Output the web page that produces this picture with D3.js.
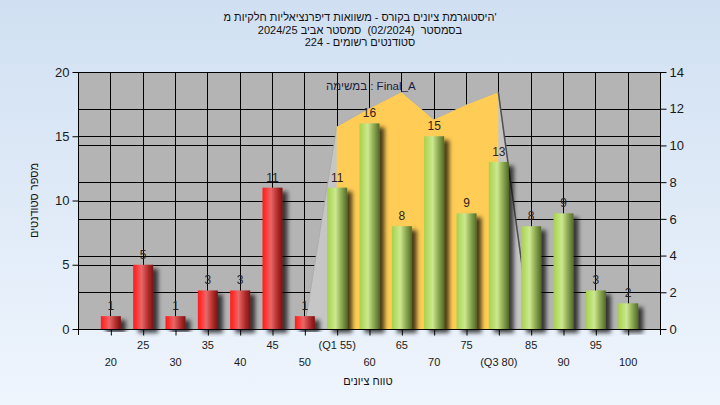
<!DOCTYPE html>
<html>
<head>
<meta charset="utf-8">
<script src="https://cdn.jsdelivr.net/npm/d3@7"></script>
<style>
  html, body { margin: 0; padding: 0; }
  body { width: 720px; height: 405px; overflow: hidden; }
  text { font-family: "Liberation Sans", Arial, "DejaVu Sans", sans-serif; }
</style>
</head>
<body>
<svg id="chart" width="720" height="405"></svg>
<script>
// ---- data ----
const categories = [20, 25, 30, 35, 40, 45, 50, 55, 60, 65, 70, 75, 80, 85, 90, 95, 100];
const counts     = [1, 5, 1, 3, 3, 11, 1, 11, 16, 8, 15, 9, 13, 8, 9, 3, 2];
const tickLabels = ["20","25","30","35","40","45","50","(Q1 55)","60","65","70","75","(Q3 80)","85","90","95","100"];
const failLimit = 55; // bars below this are red
// distribution area (right axis units)
const areaCats   = [50, 55, 60, 65, 70, 75, 80, 85];
const areaValues = [0, 11, 12, 12.9, 11.4, 12.2, 12.9, 0];
const q1 = 55, q3 = 80;
const leftTicks  = [0, 5, 10, 15, 20];
const rightTicks = [0, 2, 4, 6, 8, 10, 12, 14];
const titleLines = [
  "היסטוגרמת ציונים בקורס - משוואות דיפרנציאליות חלקיות מ'",
  "בסמסטר  (02/2024)  סמסטר אביב 2024/25",
  "סטודנטים רשומים - 224"
];
const yTitle = "מספר סטודנטים";
const xTitle = "טווח ציונים";
const seriesLabel = "במשימה : Final_A";

// ---- layout ----
const L = 78, R = 660, T = 72, B = 329;
const svg = d3.select("#chart");
const defs = svg.append("defs");

const bg = defs.append("linearGradient").attr("id", "bg").attr("x1", 0).attr("x2", 0).attr("y1", 0).attr("y2", 1);
bg.append("stop").attr("offset", 0).attr("stop-color", "#d0e0f2");
bg.append("stop").attr("offset", 1).attr("stop-color", "#eff5fd");

function grad(id, stops) {
  const g = defs.append("linearGradient").attr("id", id).attr("x1", 0).attr("x2", 1).attr("y1", 0).attr("y2", 0);
  stops.forEach(s => g.append("stop").attr("offset", s[0]).attr("stop-color", s[1]));
}
grad("red", [[0, "#ff1e1e"], [0.15, "#ff3030"], [0.42, "#e86868"], [0.72, "#b83030"], [1, "#7a1212"]]);
grad("green", [[0, "#a6d04e"], [0.15, "#b4da62"], [0.42, "#cce890"], [0.72, "#8aa850"], [1, "#526a2a"]]);

const sh = defs.append("filter").attr("id", "shadow").attr("x", "-30%").attr("y", "-10%").attr("width", "180%").attr("height", "130%");
sh.append("feDropShadow").attr("dx", 5).attr("dy", 4).attr("stdDeviation", 2)
  .attr("flood-color", "#000").attr("flood-opacity", 0.7);

svg.append("rect").attr("width", 720).attr("height", 405).attr("fill", "url(#bg)");

const x = d3.scalePoint().domain(categories).range([L, R]).padding(1);
const yL = d3.scaleLinear().domain([0, 20]).range([B, T]);
const yR = d3.scaleLinear().domain([0, 14]).range([B, T]);

// plot background
svg.append("rect").attr("x", L).attr("y", T).attr("width", R - L).attr("height", B - T).attr("fill", "#b4b4b4");

// gridlines
const grid = svg.append("g").attr("stroke", "#000").attr("stroke-width", 1);
leftTicks.forEach(v => grid.append("line").attr("x1", L).attr("x2", R).attr("y1", Math.round(yL(v)) + 0.5).attr("y2", Math.round(yL(v)) + 0.5));
rightTicks.forEach(v => grid.append("line").attr("x1", L).attr("x2", R).attr("y1", Math.round(yR(v)) + 0.5).attr("y2", Math.round(yR(v)) + 0.5));
categories.forEach(c => grid.append("line").attr("x1", Math.round(x(c)) + 0.5).attr("x2", Math.round(x(c)) + 0.5).attr("y1", T).attr("y2", B));

// distribution area
const areaPts = areaCats.map((c, i) => [x(c), yR(areaValues[i])]);
svg.append("path").attr("d", d3.line()(areaPts) + "Z").attr("fill", "#c6c6c6").attr("stroke", "#a8a8a8").attr("stroke-width", 0.8);
const inner = areaCats.map((c, i) => ({c, v: areaValues[i]})).filter(d => d.c >= q1 && d.c <= q3);
const yellowPts = [[x(q1), yR(0)]].concat(inner.map(d => [x(d.c), yR(d.v)])).concat([[x(q3), yR(0)]]);
svg.append("path").attr("d", d3.line()(yellowPts) + "Z").attr("fill", "#ffcc55");
const last = areaCats.length - 1;
svg.append("line")
  .attr("x1", x(areaCats[last - 1])).attr("y1", yR(areaValues[last - 1]))
  .attr("x2", x(areaCats[last])).attr("y2", yR(areaValues[last]))
  .attr("stroke", "#505050").attr("stroke-width", 1.5);

// bars
const bw = 20;
svg.append("g").selectAll("rect").data(categories).join("rect")
  .attr("x", c => x(c) - bw / 2 + 0.5)
  .attr("y", (c, i) => yL(counts[i]))
  .attr("width", bw)
  .attr("height", (c, i) => yL(0) - yL(counts[i]))
  .attr("fill", c => c < failLimit ? "url(#red)" : "url(#green)")
  .attr("filter", "url(#shadow)");

// value labels
svg.append("g").selectAll("text").data(categories).join("text")
  .attr("x", c => x(c) + 0.5)
  .attr("y", (c, i) => yL(counts[i]) - 6)
  .attr("text-anchor", "middle")
  .attr("font-size", 12)
  .attr("fill", "#2e1e1e")
  .text((c, i) => counts[i]);

// axes
function styleAxis(g) {
  g.select(".domain").remove();
  g.selectAll(".tick line").attr("stroke", "#000");
  g.selectAll(".tick text").attr("fill", "#1a1a1a").attr("font-family", "Liberation Sans, Arial, sans-serif");
}
const axL = svg.append("g").attr("transform", `translate(${L + 0.5},0)`)
  .call(d3.axisLeft(yL).tickValues(leftTicks).tickSize(6).tickPadding(3).tickFormat(d3.format("d")));
styleAxis(axL);
axL.selectAll(".tick text").attr("font-size", 13);

const axR = svg.append("g").attr("transform", `translate(${R + 0.5},0)`)
  .call(d3.axisRight(yR).tickValues(rightTicks).tickSize(6).tickPadding(3).tickFormat(d3.format("d")));
styleAxis(axR);
axR.selectAll(".tick text").attr("font-size", 13);

const axB = svg.append("g").attr("transform", `translate(0,${B + 0.5})`)
  .call(d3.axisBottom(x).tickSize(6).tickPadding(3).tickFormat((c, i) => tickLabels[i]));
styleAxis(axB);
axB.selectAll(".tick line").attr("transform", "translate(0.5,0)");
axB.selectAll(".tick text").attr("font-size", 11)
  .attr("dy", null)
  .attr("y", (c, i) => i % 2 === 1 ? 19 : 36);

// axis lines
svg.append("line").attr("x1", L).attr("x2", R + 1).attr("y1", B + 0.5).attr("y2", B + 0.5).attr("stroke", "#000");
svg.append("line").attr("x1", L + 0.5).attr("x2", L + 0.5).attr("y1", T).attr("y2", B + 6).attr("stroke", "#000");
svg.append("line").attr("x1", R + 0.5).attr("x2", R + 0.5).attr("y1", T).attr("y2", B + 6).attr("stroke", "#000");

// series label
svg.append("text").attr("x", 326).attr("y", 90).attr("font-size", 11.5).attr("fill", "#1c1c40").text(seriesLabel);

// titles
titleLines.forEach((t, i) => {
  svg.append("text").attr("x", 360).attr("y", 21 + i * 12.6).attr("text-anchor", "middle")
    .attr("font-size", 11).attr("fill", "#111").style("white-space", "pre").text(t);
});
svg.append("text").attr("transform", `translate(38,${(T + B) / 2}) rotate(-90)`)
  .attr("text-anchor", "middle").attr("font-size", 11).attr("fill", "#111").text(yTitle);
svg.append("text").attr("x", 368).attr("y", 385).attr("text-anchor", "middle")
  .attr("font-size", 11).attr("fill", "#111").text(xTitle);
</script>
</body>
</html>
